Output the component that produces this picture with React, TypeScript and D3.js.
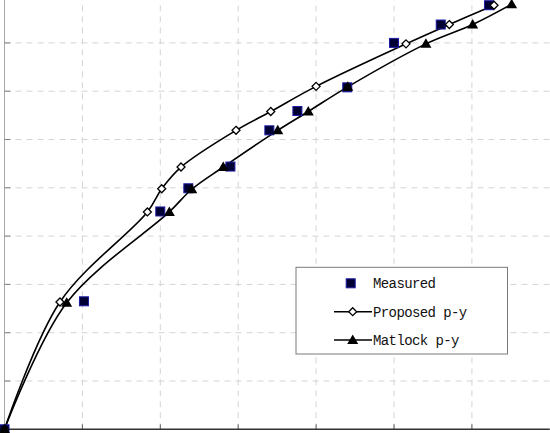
import React from 'react';
import * as d3 from 'd3';

// displacement (mm) and load (kN)
const measuredX = [0, 5.1, 10.0, 11.8, 14.5, 17.0, 18.8, 22.0, 25.0, 28.0, 31.1];
const measuredY = [0, 132.5, 225.5, 249.5, 272, 309.5, 329.5, 354, 400, 419, 439];

const proposedX = [0, 3.56, 9.17, 10.09, 11.33, 14.86, 17.09, 20.0, 25.77, 28.55, 31.42];
const proposedY = [0, 131.8, 225, 249, 271.5, 309.5, 329, 355, 399, 419, 439];

const matlockX = [0, 3.99, 10.58, 12.02, 14.04, 17.54, 19.5, 22.03, 27.05, 30.05, 32.55];
const matlockY = [0, 131, 225, 248.5, 271.5, 309.5, 329, 354.5, 399, 419, 440];

const xTicks = [5, 10, 15, 20, 25, 30];
const yTicks = [50, 100, 150, 200, 250, 300, 350, 400];

const legendLabels = ['Measured', 'Proposed p-y', 'Matlock p-y'];

const W = 550;
const H = 433;

const x = d3.scaleLinear().domain([0, 35]).range([4.5, 549.8]);
const y = d3.scaleLinear().domain([0, 450]).range([429.3, -5.4]);

type Pt = [number, number];
const zip = (xs: number[], ys: number[]): Pt[] => xs.map((v, i) => [v, ys[i]]);

const measured = zip(measuredX, measuredY);
const proposed = zip(proposedX, proposedY);
const matlock = zip(matlockX, matlockY);

const line = d3.line<Pt>()
  .x(d => x(d[0]))
  .y(d => y(d[1]))
  .curve(d3.curveCatmullRom.alpha(0.5));

const Square = ({ cx, cy }: { cx: number; cy: number }) => (
  <rect x={cx - 4.5} y={cy - 4.5} width={9} height={9} fill="#000033" stroke="#1a1aa6" strokeWidth={1} />
);
const Diamond = ({ cx, cy }: { cx: number; cy: number }) => (
  <path d={`M${cx},${cy - 4} L${cx + 4},${cy} L${cx},${cy + 4} L${cx - 4},${cy} Z`} fill="#fff" stroke="#000" strokeWidth={1.3} />
);
const Triangle = ({ cx, cy }: { cx: number; cy: number }) => (
  <path d={`M${cx},${cy - 5.5} L${cx + 5.5},${cy + 4} L${cx - 5.5},${cy + 4} Z`} fill="#000" />
);

export default function App() {
  const [x0, x1] = x.range();
  const [y0, y1] = y.range();
  const lgX = 296, lgY = 267.3, lgW = 211.5, lgH = 86.7;
  const rows = [283.3, 311.7, 340];

  return (
    <svg width={W} height={H} style={{ position: 'absolute', left: 0, top: 0, background: '#fff' }}>
      {/* grid */}
      {xTicks.map(t => (
        <line key={'gx' + t} x1={x(t)} x2={x(t)} y1={y0} y2={y1} stroke="#d4d4d4" strokeWidth={1} strokeDasharray="6,5" />
      ))}
      {yTicks.map(t => (
        <line key={'gy' + t} x1={x0} x2={x1} y1={y(t)} y2={y(t)} stroke="#d4d4d4" strokeWidth={1} strokeDasharray="6,5" />
      ))}
      {/* axes */}
      <line x1={x0} x2={x0} y1={y0} y2={y1} stroke="#a8a8a8" strokeWidth={1} />
      {yTicks.map(t => (
        <line key={'ty' + t} x1={x0} x2={x0 + 6} y1={y(t)} y2={y(t)} stroke="#808080" strokeWidth={1} />
      ))}
      {xTicks.map(t => (
        <line key={'tx' + t} x1={x(t)} x2={x(t)} y1={y0} y2={y0 - 5} stroke="#606060" strokeWidth={1} />
      ))}
      <line x1={x0} x2={x1} y1={y0} y2={y0} stroke="#333" strokeWidth={1.5} />

      {/* curves */}
      <path d={line(proposed) || ''} fill="none" stroke="#000" strokeWidth={1.6} />
      <path d={line(matlock) || ''} fill="none" stroke="#000" strokeWidth={1.6} />

      {/* markers */}
      {measured.map((d, i) => <Square key={'m' + i} cx={x(d[0])} cy={y(d[1])} />)}
      {proposed.map((d, i) => <Diamond key={'p' + i} cx={x(d[0])} cy={y(d[1])} />)}
      {matlock.map((d, i) => <Triangle key={'t' + i} cx={x(d[0])} cy={y(d[1])} />)}

      {/* legend */}
      <rect x={lgX} y={lgY} width={lgW} height={lgH} fill="#fff" stroke="#7a7a7a" strokeWidth={1} />
      <Square cx={350.7} cy={rows[0]} />
      <line x1={334} x2={372} y1={rows[1]} y2={rows[1]} stroke="#000" strokeWidth={1.6} />
      <Diamond cx={352.7} cy={rows[1]} />
      <line x1={334} x2={372} y1={rows[2]} y2={rows[2]} stroke="#000" strokeWidth={1.6} />
      <Triangle cx={352.7} cy={rows[2]} />
      {legendLabels.map((s, i) => (
        <text key={s} x={373} y={rows[i]} dy="0.36em" fontFamily="'Liberation Mono', monospace" fontSize={14} letterSpacing={-0.6} fill="#111">
          {s}
        </text>
      ))}
    </svg>
  );
}
